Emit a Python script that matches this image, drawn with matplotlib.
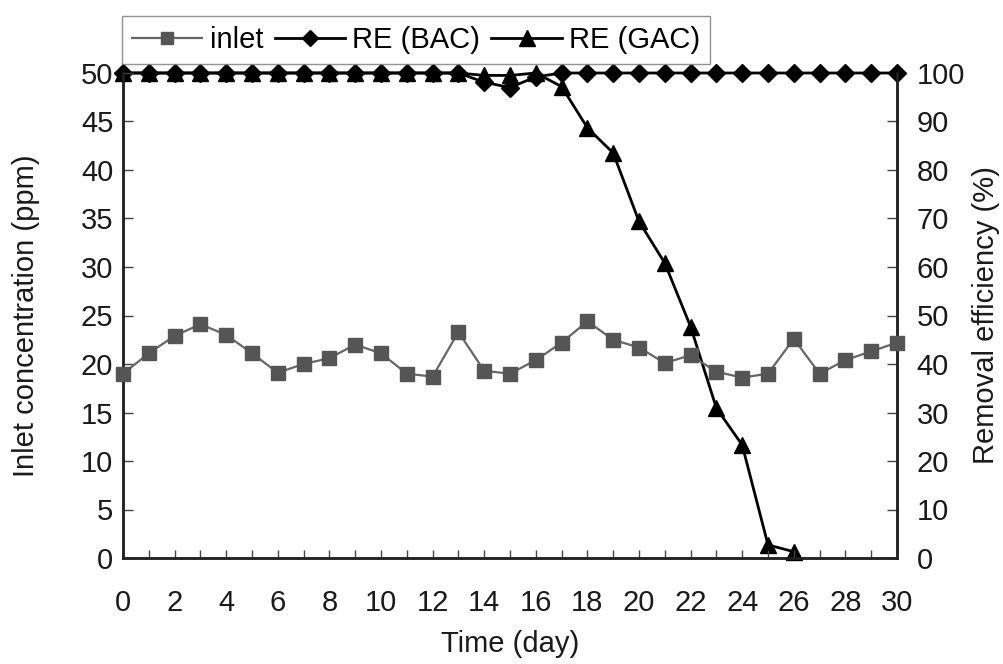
import matplotlib
matplotlib.use("Agg")
import matplotlib.pyplot as plt
from matplotlib.ticker import MultipleLocator
from matplotlib.lines import Line2D

days = list(range(31))
inlet = [19.0, 21.1, 22.9, 24.1, 23.0, 21.1, 19.1, 20.0, 20.6, 22.0,
         21.1, 19.0, 18.7, 23.3, 19.3, 19.0, 20.4, 22.2, 24.4, 22.5,
         21.7, 20.1, 20.9, 19.2, 18.6, 19.0, 22.6, 19.0, 20.4, 21.3, 22.2]
re_bac = [100, 100, 100, 100, 100, 100, 100, 100, 100, 100,
          100, 100, 100, 100, 98.1, 97.0, 99.2, 100, 100, 100,
          100, 100, 100, 100, 100, 100, 100, 100, 100, 100, 100]
gac_days = list(range(27))
re_gac = [100, 100, 100, 100, 100, 100, 100, 100, 100, 100,
          100, 100, 100, 100, 99.5, 99.5, 100, 97.2, 88.7, 83.5,
          69.4, 60.8, 47.7, 30.9, 23.3, 2.7, 1.3]

plt.rcParams['font.family'] = ['Liberation Sans', 'DejaVu Sans']

fig = plt.figure(figsize=(10.04, 6.64), dpi=100)
W, H = 1004, 664
left, right, top, bottom = 123, 897, 73, 558
ax = fig.add_axes([left / W, 1 - bottom / H, (right - left) / W, (bottom - top) / H])
ax2 = ax.twinx()

fs = 21
tc = '#1a1a1a'
ax.plot(days, inlet, color='#666666', lw=1.6, marker='s', ms=10,
        mfc='#555555', mec='#555555', clip_on=False, zorder=3)
ax2.plot(days, re_bac, color='black', lw=2.0, marker='D', ms=9,
         mfc='black', mec='black', clip_on=False, zorder=4)
ax2.plot(gac_days, re_gac, color='black', lw=2.0, marker='^', ms=12,
         mfc='black', mec='black', clip_on=False, zorder=4)
ax.set_zorder(ax2.get_zorder() + 1)
ax.patch.set_visible(False)

ax.set_xlim(0, 30)
ax.set_ylim(0, 50)
ax2.set_ylim(0, 100)
ax.xaxis.set_major_locator(MultipleLocator(2))
ax.xaxis.set_minor_locator(MultipleLocator(1))
ax.yaxis.set_major_locator(MultipleLocator(5))
ax2.yaxis.set_major_locator(MultipleLocator(10))

for a in (ax, ax2):
    a.spines['top'].set_visible(False)
    for s in ('left', 'right', 'bottom'):
        a.spines[s].set_linewidth(1.8)
        a.spines[s].set_color('#222222')

ax.tick_params(axis='x', which='major', direction='in', length=6, width=1,
               labelsize=fs, pad=22, colors='#444444', labelcolor=tc)
ax.tick_params(axis='x', which='minor', direction='in', length=6, width=1, colors='#444444')
ax.tick_params(axis='y', direction='in', length=7, width=1, labelsize=fs, pad=7,
               colors='#444444', labelcolor=tc)
ax2.tick_params(axis='y', direction='in', length=7, width=1, labelsize=fs, pad=14,
                colors='#444444', labelcolor=tc)

ax.set_xlabel('Time (day)', fontsize=fs, labelpad=10, color=tc)
ax.set_ylabel('Inlet concentration (ppm)', fontsize=fs, labelpad=29, color=tc)
ax2.set_ylabel('Removal efficiency (%)', fontsize=fs, labelpad=5, color=tc)

handles = [
    Line2D([], [], color='#666666', lw=1.6, marker='s', ms=9, mfc='#555555', mec='#555555'),
    Line2D([], [], color='black', lw=2.0, marker='D', ms=8, mfc='black', mec='black'),
    Line2D([], [], color='black', lw=2.0, marker='^', ms=11, mfc='black', mec='black'),
]
leg = fig.legend(handles, ['inlet', 'RE (BAC)', 'RE (GAC)'], loc='upper left',
                 bbox_to_anchor=(122 / W, 1 - 16 / H), ncol=3, fontsize=fs,
                 frameon=True, fancybox=False, edgecolor='#777777',
                 handlelength=2.4, handletextpad=0.25, columnspacing=0.4,
                 borderpad=0.35, borderaxespad=0)
leg.get_frame().set_linewidth(1.0)

fig.savefig('out.png', dpi=100)
